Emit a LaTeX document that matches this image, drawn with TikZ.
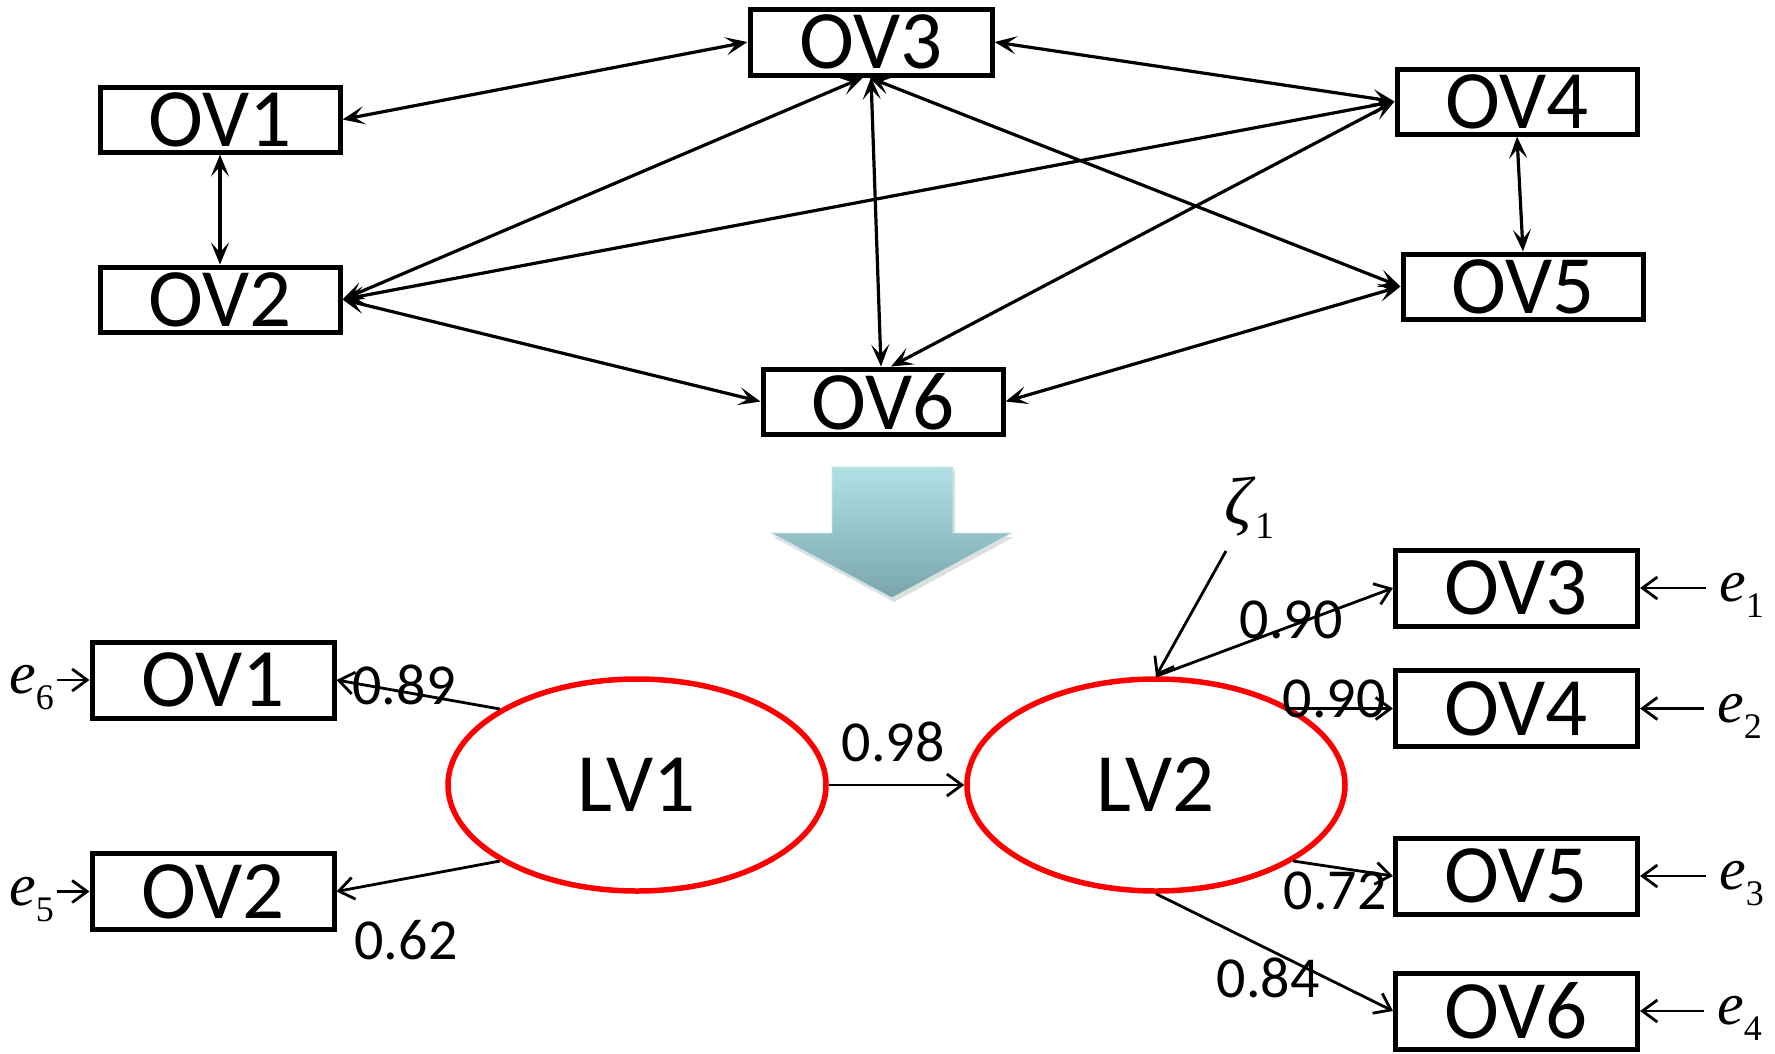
\documentclass[tikz,border=0pt]{standalone}
\usepackage{fontspec}
\setmainfont{Carlito}
\newfontfamily\seriffam{Liberation Serif}
\usetikzlibrary{arrows.meta,shapes.geometric,shadows}
\newcommand\bigtxt{\fontsize{83}{90}\selectfont}
\newcommand\coeftxt{\fontsize{58}{64}\selectfont}
\newcommand\errtxt{\seriffam\fontsize{60}{64}\selectfont}
\newcommand\errsub[1]{\smash{\raisebox{-16pt}{\fontsize{36}{36}\selectfont\upshape #1}}}
\definecolor{arrtop}{HTML}{B2E0E5}
\definecolor{arrbot}{HTML}{7AA6AB}
\tikzset{
  topbox/.style={draw, line width=5pt, minimum width=240pt, minimum height=65pt, inner sep=0pt, font=\bigtxt},
  botbox/.style={draw, line width=5pt, minimum width=242pt, minimum height=76pt, inner sep=0pt, font=\bigtxt},
  lv/.style={draw=red, line width=5.5pt, ellipse, minimum width=378pt, minimum height=212pt, inner sep=0pt, font=\bigtxt},
  dbl/.style={line width=3.2pt, {Stealth[length=22pt,width=18pt,inset=10pt]}-{Stealth[length=22pt,width=18pt,inset=10pt]}},
  one/.style={line width=2.8pt, -{Straight Barb[length=15pt,width=22pt]}},
  coef/.style={font=\coeftxt, inner sep=0pt},
  errr/.style={anchor=west, inner xsep=13pt, inner ysep=0pt, font=\errtxt},
  errl/.style={anchor=east, inner xsep=3pt, inner ysep=0pt, font=\errtxt}
}
\begin{document}
\begin{tikzpicture}[x=1pt,y=-1pt]
\useasboundingbox (0,0) rectangle (1775,1053);
% ---------- top network ----------
\node[topbox] (tOV1) at (220,119.5) {OV1};
\node[topbox] (tOV2) at (220,299.5) {OV2};
\node[topbox, minimum width=242pt, minimum height=66pt] (tOV3) at (871,42) {OV3};
\node[topbox] (tOV4) at (1517,101.5) {OV4};
\node[topbox] (tOV5) at (1523,286.5) {OV5};
\node[topbox] (tOV6) at (883,401.5) {OV6};
\draw[dbl] (tOV1.east) -- (tOV3.west);
\draw[dbl] (tOV1.south) -- (tOV2.north);
\draw[dbl] ([xshift=-8pt]tOV3.south) -- (tOV2.east);
\draw[dbl] (tOV4.west) -- (tOV2.east);
\draw[dbl] (tOV2.east) -- (tOV6.west);
\draw[dbl] (tOV3.south) -- ([xshift=-2pt]tOV6.north);
\draw[dbl] (tOV3.east) -- (tOV4.west);
\draw[dbl] ([xshift=-2pt]tOV3.south) -- (tOV5.west);
\draw[dbl] (tOV4.west) -- ([xshift=8pt]tOV6.north);
\draw[dbl] (tOV4.south) -- (tOV5.north);
\draw[dbl] (tOV5.west) -- (tOV6.east);
% ---------- big arrow ----------
\shade[top color=arrtop, bottom color=arrbot, draw=arrtop!70!white, line width=0.8pt,
  drop shadow={opacity=0.25, shadow xshift=2pt, shadow yshift=-4pt}]
  (832,467) -- (953,467) -- (953,533) -- (1012,533) -- (892,598) -- (771,533) -- (832,533) -- cycle;
% ---------- bottom model ----------
\node[lv] (LV1) at (637,785) {LV1};
\node[lv] (LV2) at (1156,785) {LV2};
\node[botbox] (bOV1) at (213,680) {OV1};
\node[botbox] (bOV2) at (213,891.5) {OV2};
\node[botbox] (bOV3) at (1516.5,588) {OV3};
\node[botbox] (bOV4) at (1516.5,708.5) {OV4};
\node[botbox] (bOV5) at (1516.5,876) {OV5};
\node[botbox] (bOV6) at (1516.5,1011) {OV6};
\draw[one] (LV1.151) -- (bOV1.east);
\draw[one] (LV1.209) -- (bOV2.east);
\draw[one] (LV1.east) -- (LV2.west);
\draw[one] (LV2.north) -- (bOV3.west);
\draw[one] (LV2.30 |- bOV4.west) -- (bOV4.west);
\draw[one] (LV2.-29) -- (bOV5.west);
\draw[one] (LV2.south) -- (bOV6.west);
% zeta
\node[anchor=base west, inner sep=0pt, font=\seriffam] (zeta) at (1224,524)
  {\fontsize{68}{70}\selectfont\textit{ζ}\raisebox{-14pt}{\fontsize{38}{38}\selectfont 1}};
\coordinate (zt) at (1226,551);
\draw[one] (zt) -- (LV2.north);
% coefficients
\node[coef] (c1) at (404,685) {0.89};
\node[coef] (c2) at (406,940) {0.62};
\node[coef] (c3) at (893,742) {0.98};
\node[coef] (c4) at (1291,620) {0.90};
\node[coef] (c5) at (1334,699) {0.90};
\node[coef] (c6) at (1335,891) {0.72};
\node[coef] (c7) at (1268,978) {0.84};
% errors
\node[errr] (e1) at (1706,588) {\textit{e}\errsub{1}};
\node[errr] (e2) at (1704,708.5) {\textit{e}\errsub{2}};
\node[errr] (e3) at (1706,876) {\textit{e}\errsub{3}};
\node[errr] (e4) at (1704,1011) {\textit{e}\errsub{4}};
\draw[one] (e1.west) -- (bOV3.east);
\draw[one] (e2.west) -- (bOV4.east);
\draw[one] (e3.west) -- (bOV5.east);
\draw[one] (e4.west) -- (bOV6.east);
\node[errl] (e6) at (57,680) {\textit{e}\hbox{\errsub{6}}};
\node[errl] (e5) at (57,891.5) {\textit{e}\hbox{\errsub{5}}};
\draw[one] (e6.east) -- (bOV1.west);
\draw[one] (e5.east) -- (bOV2.west);
\end{tikzpicture}
\end{document}
